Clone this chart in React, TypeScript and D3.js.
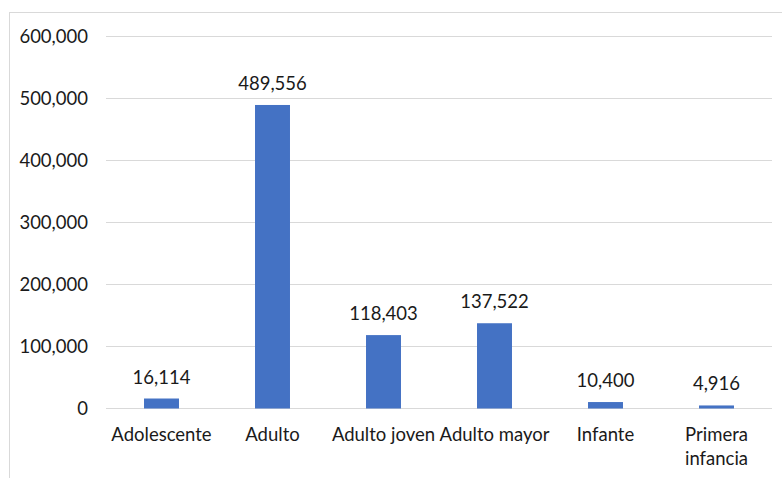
import React, { useEffect, useRef } from "react";
import * as d3 from "d3";

const categories = [
  "Adolescente",
  "Adulto",
  "Adulto joven",
  "Adulto mayor",
  "Infante",
  "Primera infancia",
];
const values = [16114, 489556, 118403, 137522, 10400, 4916];
const yTicks = [0, 100000, 200000, 300000, 400000, 500000, 600000];

const WIDTH = 782;
const HEIGHT = 478;
const FONT = "Lato, 'Open Sans', sans-serif";
const FONT_SIZE = 18.5;
const BAR_COLOR = "#4472C4";
const GRID_COLOR = "#d9d9d9";
const TEXT_COLOR = "#1a1a1a";

export default function App() {
  const ref = useRef<SVGSVGElement | null>(null);

  useEffect(() => {
    const svg = d3.select(ref.current);
    svg.selectAll("*").remove();

    const x = d3
      .scaleBand<string>()
      .domain(categories)
      .range([106, 772])
      .paddingInner(0.685)
      .paddingOuter(0.3425);

    const y = d3.scaleLinear().domain([0, 600000]).range([408.5, 36.5]);
    const fmt = d3.format(",");

    // chart frame (left and top edges visible)
    svg
      .append("rect")
      .attr("x", 9.5)
      .attr("y", 12.5)
      .attr("width", 820)
      .attr("height", 520)
      .attr("fill", "none")
      .attr("stroke", GRID_COLOR)
      .attr("stroke-width", 1);

    // horizontal gridlines
    svg
      .append("g")
      .selectAll("line")
      .data(yTicks)
      .join("line")
      .attr("x1", 106)
      .attr("x2", 772)
      .attr("y1", (d) => y(d))
      .attr("y2", (d) => y(d))
      .attr("stroke", GRID_COLOR)
      .attr("stroke-width", 1.2);

    // y tick labels
    svg
      .append("g")
      .selectAll("text")
      .data(yTicks)
      .join("text")
      .attr("x", 88)
      .attr("y", (d) => y(d))
      .attr("dy", "0.35em")
      .attr("text-anchor", "end")
      .attr("font-family", FONT)
      .attr("font-size", FONT_SIZE)
      .attr("fill", TEXT_COLOR)
      .text((d) => fmt(d));

    const data = categories.map((c, i) => ({ c, v: values[i] }));

    // bars
    svg
      .append("g")
      .selectAll("rect")
      .data(data)
      .join("rect")
      .attr("x", (d) => x(d.c)!)
      .attr("width", x.bandwidth())
      .attr("y", (d) => y(d.v))
      .attr("height", (d) => y(0) - y(d.v))
      .attr("fill", BAR_COLOR);

    // value labels
    svg
      .append("g")
      .selectAll("text")
      .data(data)
      .join("text")
      .attr("x", (d) => x(d.c)! + x.bandwidth() / 2)
      .attr("y", (d) => y(d.v) - 15)
      .attr("text-anchor", "middle")
      .attr("font-family", FONT)
      .attr("font-size", FONT_SIZE)
      .attr("fill", TEXT_COLOR)
      .text((d) => fmt(d.v));

    // category labels, long ones wrapped onto two lines
    const labels = svg
      .append("g")
      .selectAll("text")
      .data(categories)
      .join("text")
      .attr("x", (d) => x(d)! + x.bandwidth() / 2)
      .attr("y", 441)
      .attr("text-anchor", "middle")
      .attr("font-family", FONT)
      .attr("font-size", FONT_SIZE)
      .attr("fill", TEXT_COLOR);

    labels.each(function (d) {
      const lines = d.length > 14 ? d.split(" ") : [d];
      const t = d3.select(this);
      lines.forEach((line, i) => {
        t.append("tspan")
          .attr("x", x(d)! + x.bandwidth() / 2)
          .attr("dy", i === 0 ? 0 : 23.5)
          .text(line);
      });
    });
  }, []);

  return (
    <div style={{ position: "absolute", left: 0, top: 0 }}>
      <svg ref={ref} width={WIDTH} height={HEIGHT} style={{ display: "block", background: "#fff" }} />
    </div>
  );
}
